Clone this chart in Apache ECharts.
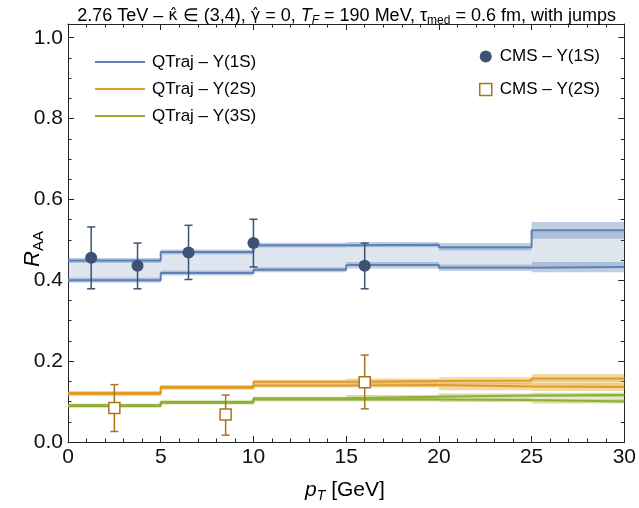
<!DOCTYPE html>
<html>
<head>
<meta charset="utf-8">
<script src="https://cdn.jsdelivr.net/npm/echarts@6/dist/echarts.min.js"></script>
<style>html,body{margin:0;padding:0;background:#fff}#c{width:639px;height:508px}</style>
</head>
<body>
<div id="c"></div>
<script>
const FONT = 'Liberation Sans';

// bin edges (pT, GeV)
const binEdges = [0, 5, 10, 15, 20, 25, 30];
const xTicks = [0, 5, 10, 15, 20, 25, 30];
const yTicks = [0.0, 0.2, 0.4, 0.6, 0.8, 1.0];

// QTraj Y(1S): two curves with uncertainty bands
const q1S_up    = [0.449, 0.470, 0.487, 0.488, 0.482, 0.524];
const q1S_up_lo = [0.443, 0.464, 0.481, 0.482, 0.474, 0.503];
const q1S_up_hi = [0.455, 0.476, 0.493, 0.495, 0.492, 0.544];
const q1S_dn    = [0.400, 0.418, 0.426, 0.438, 0.431, 0.433];
const q1S_dn_lo = [0.394, 0.412, 0.420, 0.429, 0.423, 0.420];
const q1S_dn_hi = [0.406, 0.424, 0.432, 0.445, 0.439, 0.445];

// QTraj Y(2S)
const q2S_up    = [0.121, 0.136, 0.149, 0.151, 0.152, 0.157];
const q2S_up_lo = [0.116, 0.131, 0.144, 0.145, 0.145, 0.148];
const q2S_up_hi = [0.126, 0.141, 0.154, 0.157, 0.160, 0.168];
const q2S_dn    = [0.119, 0.134, 0.140, 0.141, 0.137, 0.136];
const q2S_dn_lo = [0.114, 0.129, 0.134, 0.135, 0.128, 0.126];
const q2S_dn_hi = [0.124, 0.139, 0.145, 0.147, 0.146, 0.146];

// QTraj Y(3S)
const q3S_up    = [0.091, 0.099, 0.108, 0.112, 0.115, 0.116];
const q3S_up_lo = [0.087, 0.095, 0.104, 0.107, 0.110, 0.111];
const q3S_up_hi = [0.095, 0.103, 0.112, 0.116, 0.120, 0.122];
const q3S_dn    = [0.089, 0.097, 0.105, 0.105, 0.104, 0.100];
const q3S_dn_lo = [0.085, 0.093, 0.101, 0.101, 0.099, 0.095];
const q3S_dn_hi = [0.093, 0.101, 0.109, 0.109, 0.108, 0.106];

// CMS Y(1S)
const cms1S_x  = [1.25, 3.75, 6.5, 10.0, 16.0];
const cms1S_y  = [0.456, 0.436, 0.469, 0.492, 0.436];
const cms1S_lo = [0.379, 0.379, 0.402, 0.433, 0.379];
const cms1S_hi = [0.532, 0.492, 0.536, 0.551, 0.492];

// CMS Y(2S)
const cms2S_x  = [2.5, 8.5, 16.0];
const cms2S_y  = [0.084, 0.068, 0.148];
const cms2S_lo = [0.026, 0.017, 0.082];
const cms2S_hi = [0.142, 0.116, 0.215];

const BLUE = '#5e81b5', ORANGE = '#e19c24', GREEN = '#8fb032';
const CMS1 = '#3c5174', CMS2 = '#a57420';
const NAME1 = 'QTraj – Υ(1S)', NAME2 = 'QTraj – Υ(2S)', NAME3 = 'QTraj – Υ(3S)';
const CNAME1 = 'CMS – Υ(1S)', CNAME2 = 'CMS – Υ(2S)';

function stepPoints(vals) {
  const pts = [];
  vals.forEach((v, i) => { pts.push([binEdges[i], v]); pts.push([binEdges[i + 1], v]); });
  return pts;
}
function rects(lo, hi) { return lo.map((l, i) => [binEdges[i], binEdges[i + 1], l, hi[i]]); }
function rgba(hex, a) {
  const n = parseInt(hex.slice(1), 16);
  return 'rgba(' + (n >> 16) + ',' + ((n >> 8) & 255) + ',' + (n & 255) + ',' + a + ')';
}
function rectSeries(name, lo, hi, fill, z) {
  return {
    type: 'custom', name: name, z: z, clip: true, silent: true,
    data: rects(lo, hi),
    encode: { x: [0, 1], y: [2, 3] },
    renderItem: function (params, api) {
      const a = api.coord([api.value(0), api.value(3)]);
      const b = api.coord([api.value(1), api.value(2)]);
      return { type: 'rect', shape: { x: a[0], y: a[1], width: b[0] - a[0], height: b[1] - a[1] }, style: { fill: fill } };
    }
  };
}
function lineSeries(name, vals, color, z) {
  return {
    type: 'line', name: name, z: z, data: stepPoints(vals), symbol: 'none', showSymbol: false,
    lineStyle: { color: color, width: 2 }, itemStyle: { color: color }, silent: true, animation: false
  };
}
function errSeries(name, xs, lo, hi, color, z) {
  return {
    type: 'custom', name: name, z: z, silent: true,
    data: xs.map((x, i) => [x, lo[i], hi[i]]),
    encode: { x: 0, y: [1, 2] },
    renderItem: function (params, api) {
      const a = api.coord([api.value(0), api.value(1)]);
      const b = api.coord([api.value(0), api.value(2)]);
      const w = 4;
      const st = { stroke: color, lineWidth: 1.5 };
      return {
        type: 'group', children: [
          { type: 'line', shape: { x1: a[0], y1: a[1], x2: b[0], y2: b[1] }, style: st },
          { type: 'line', shape: { x1: a[0] - w, y1: a[1], x2: a[0] + w, y2: a[1] }, style: st },
          { type: 'line', shape: { x1: b[0] - w, y1: b[1], x2: b[0] + w, y2: b[1] }, style: st }
        ]
      };
    }
  };
}

const BAND_A = 0.4, FILL_A = 0.2;
const series = [
  // fills between the two curves
  rectSeries('f1', q1S_dn, q1S_up, rgba(BLUE, FILL_A), 1),
  rectSeries('f2', q2S_dn, q2S_up, rgba(ORANGE, FILL_A), 1),
  rectSeries('f3', q3S_dn, q3S_up, rgba(GREEN, FILL_A), 1),
  // uncertainty bands
  rectSeries('b1a', q1S_up_lo, q1S_up_hi, rgba(BLUE, BAND_A), 2),
  rectSeries('b1b', q1S_dn_lo, q1S_dn_hi, rgba(BLUE, BAND_A), 2),
  rectSeries('b2a', q2S_up_lo, q2S_up_hi, rgba(ORANGE, BAND_A), 2),
  rectSeries('b2b', q2S_dn_lo, q2S_dn_hi, rgba(ORANGE, BAND_A), 2),
  rectSeries('b3a', q3S_up_lo, q3S_up_hi, rgba(GREEN, BAND_A), 2),
  rectSeries('b3b', q3S_dn_lo, q3S_dn_hi, rgba(GREEN, BAND_A), 2),
  // central lines
  lineSeries(NAME1, q1S_up, BLUE, 3),
  lineSeries(NAME1, q1S_dn, BLUE, 3),
  lineSeries(NAME2, q2S_up, ORANGE, 3),
  lineSeries(NAME2, q2S_dn, ORANGE, 3),
  lineSeries(NAME3, q3S_up, GREEN, 3),
  lineSeries(NAME3, q3S_dn, GREEN, 3),
  // CMS data
  errSeries('e1', cms1S_x, cms1S_lo, cms1S_hi, CMS1, 4),
  errSeries('e2', cms2S_x, cms2S_lo, cms2S_hi, CMS2, 4),
  {
    type: 'scatter', name: CNAME1, z: 5, symbol: 'circle', symbolSize: 12,
    data: cms1S_x.map((x, i) => [x, cms1S_y[i]]),
    itemStyle: { color: CMS1, opacity: 1 }
  },
  {
    type: 'scatter', name: CNAME2, z: 5, symbol: 'rect', symbolSize: 11,
    data: cms2S_x.map((x, i) => [x, cms2S_y[i]]),
    itemStyle: { color: '#ffffff', borderColor: CMS2, borderWidth: 1.5, opacity: 1 }
  }
];

const axisLineStyle = { color: '#222', width: 1 };
const yMax = 1.034;
const TICK_FS = 21;

function mkX(pos, show) {
  return {
    type: 'value', position: pos, min: 0, max: 30, interval: 5,
    axisLine: { show: true, onZero: false, lineStyle: axisLineStyle },
    axisTick: { show: true, inside: true, length: 6, lineStyle: axisLineStyle },
    minorTick: { show: true, splitNumber: 5, length: 3.5, lineStyle: { color: '#222', width: 1 } },
    splitLine: { show: false },
    axisLabel: { show: show, fontFamily: FONT, fontSize: TICK_FS, color: '#111', margin: 5,
      formatter: function (v) { return xTicks.indexOf(v) >= 0 ? String(v) : ''; } }
  };
}
function mkY(pos, show) {
  return {
    type: 'value', position: pos, min: 0, max: yMax, interval: 0.2,
    axisLine: { show: true, onZero: false, lineStyle: axisLineStyle },
    axisTick: { show: true, inside: true, length: 6, lineStyle: axisLineStyle },
    minorTick: { show: true, splitNumber: 4, length: 3.5, lineStyle: { color: '#222', width: 1 } },
    splitLine: { show: false },
    axisLabel: { show: show, fontFamily: FONT, fontSize: TICK_FS, color: '#111', margin: 5, showMaxLabel: false,
      formatter: function (v) {
        const k = yTicks.find(t => Math.abs(t - v) < 1e-6);
        return k === undefined ? '' : k.toFixed(1);
      } }
  };
}

const chart = echarts.init(document.getElementById('c'), null, { renderer: 'canvas' });
chart.setOption({
  animation: false,
  backgroundColor: '#fff',
  title: {
    text: '2.76 TeV – {h|κ̂} ∈ (3,4), {h|γ̂} = 0, {i|T}{si|F} = 190 MeV, {n|τ}{s|med} = 0.6 fm, with jumps',
    right: 18, top: 0,
    textStyle: {
      fontFamily: FONT, fontSize: 18, fontWeight: 'normal', color: '#000', lineHeight: 22,
      rich: {
        n: { fontFamily: FONT, fontSize: 18, lineHeight: 22, color: '#000' },
        h: { fontFamily: 'DejaVu Sans', fontSize: 16, lineHeight: 22, color: '#000' },
        i: { fontFamily: FONT, fontSize: 18, lineHeight: 22, fontStyle: 'italic', color: '#000' },
        si: { fontFamily: FONT, fontSize: 12, lineHeight: 12, fontStyle: 'italic', verticalAlign: 'bottom', color: '#000' },
        s: { fontFamily: FONT, fontSize: 12, lineHeight: 12, verticalAlign: 'bottom', color: '#000' }
      }
    }
  },
  grid: { left: 68, right: 12, top: 24, bottom: 66, containLabel: false },
  xAxis: [mkX('bottom', true), mkX('top', false)],
  yAxis: [mkY('left', true), mkY('right', false)],
  legend: [
    {
      orient: 'vertical', left: 90, top: 48, itemWidth: 50, itemHeight: 2, itemGap: 9, icon: 'rect',
      textStyle: { fontFamily: FONT, fontSize: 17, color: '#000', lineHeight: 18, padding: [0, 0, 0, 2] },
      data: [NAME1, NAME2, NAME3], selectedMode: false
    },
    {
      orient: 'vertical', left: 474, top: 41, itemWidth: 12, itemHeight: 12, itemGap: 12,
      textStyle: { fontFamily: FONT, fontSize: 17, color: '#000', lineHeight: 21, padding: [0, 0, 0, 3] },
      data: [
        { name: CNAME1, icon: 'circle', itemStyle: { color: CMS1 } },
        { name: CNAME2, icon: 'rect', itemStyle: { color: '#ffffff', borderColor: CMS2, borderWidth: 1.5 } }
      ],
      selectedMode: false
    }
  ],
  graphic: [
    {
      type: 'text', x: 33, y: 249, rotation: Math.PI / 2, silent: true,
      style: {
        text: '{i|R}{s|AA}', align: 'center', verticalAlign: 'middle',
        rich: {
          i: { fontFamily: FONT, fontSize: 22, lineHeight: 26, fontStyle: 'italic', fill: '#000' },
          s: { fontFamily: FONT, fontSize: 15, lineHeight: 15, verticalAlign: 'bottom', fill: '#000' }
        }
      }
    },
    {
      type: 'text', x: 345, y: 490, silent: true,
      style: {
        text: '{i|p}{si|T}{n| [GeV]}', align: 'center', verticalAlign: 'middle',
        rich: {
          i: { fontFamily: FONT, fontSize: 21, lineHeight: 26, fontStyle: 'italic', fill: '#000' },
          n: { fontFamily: FONT, fontSize: 21, lineHeight: 26, fill: '#000' },
          si: { fontFamily: FONT, fontSize: 14, lineHeight: 14, fontStyle: 'italic', verticalAlign: 'bottom', fill: '#000' }
        }
      }
    }
  ],
  series: series
});
</script>
</body>
</html>
